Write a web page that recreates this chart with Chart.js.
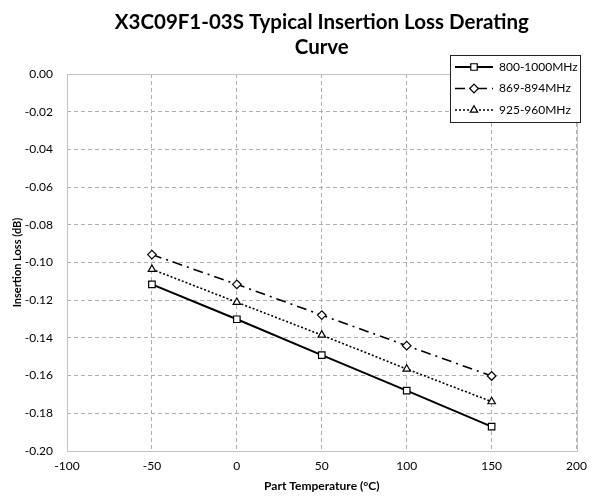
<!DOCTYPE html>
<html>
<head>
<meta charset="utf-8">
<script src="https://cdn.jsdelivr.net/npm/chart.js@4.4.1/dist/chart.umd.min.js"></script>
<style>
  html, body { margin: 0; padding: 0; background: #fff; }
  #wrap { width: 595px; height: 496px; }
</style>
</head>
<body>
<div id="wrap"><canvas id="grafica" width="595" height="496"></canvas></div>
<script>
// datos
const temperaturas = [-50, 0, 50, 100, 150];
const serieNombres = ['800-1000MHz', '869-894MHz', '925-960MHz'];
const perdida800 = [-0.1116, -0.1301, -0.1491, -0.1680, -0.1871];
const perdida869 = [-0.0958, -0.1116, -0.1279, -0.1441, -0.1602];
const perdida925 = [-0.1036, -0.1211, -0.1385, -0.1565, -0.1738];
const ticksX = [-100, -50, 0, 50, 100, 150, 200];
const ticksY = [0, -0.02, -0.04, -0.06, -0.08, -0.10, -0.12, -0.14, -0.16, -0.18, -0.20];
const tituloLineas = ['X3C09F1-03S Typical Insertion Loss Derating', 'Curve'];

const fuente = 'Lato, "Open Sans", sans-serif';

function puntos(valores) {
    return temperaturas.map((t, i) => ({ x: t, y: valores[i] }));
}

const estilos = [
    { dash: [], estilo: 'rect', ancho: 2 },
    { dash: [10, 5, 2, 5], estilo: 'rectRot', ancho: 1.6 },
    { dash: [2, 2], estilo: 'triangle', ancho: 1.6 }
];

const series = [perdida800, perdida869, perdida925];

const datasets = series.map((valores, i) => ({
    label: serieNombres[i],
    data: puntos(valores),
    borderColor: '#000',
    borderWidth: estilos[i].ancho,
    borderDash: estilos[i].dash,
    pointStyle: estilos[i].estilo,
    pointRadius: estilos[i].estilo === 'rect' ? 4.6 : 4.3,
    pointBackgroundColor: '#fff',
    pointBorderColor: '#000',
    pointBorderWidth: 1.2,
    tension: 0
}));

// ==============================
// PLUGIN: TITULO, MARCO Y LEYENDA
// ==============================
const decoracionPlugin = {
    id: 'decoracion',
    beforeDatasetsDraw(chart) {
        // marco solido del area de trazado
        const a = chart.chartArea;
        const ctx = chart.ctx;
        ctx.save();
        ctx.strokeStyle = '#c4c4c4';
        ctx.lineWidth = 1;
        ctx.setLineDash([]);
        ctx.strokeRect(Math.round(a.left) + 0.5, Math.round(a.top) + 0.5,
            Math.round(a.right - a.left), Math.round(a.bottom - a.top));
        ctx.restore();
    },
    afterDraw(chart) {
        const ctx = chart.ctx;
        const a = chart.chartArea;
        ctx.save();

        // titulo centrado sobre el area de trazado
        ctx.fillStyle = '#000';
        ctx.font = 'bold 20.5px ' + fuente;
        ctx.textAlign = 'center';
        ctx.textBaseline = 'middle';
        const cx = (a.left + a.right) / 2;
        tituloLineas.forEach((t, i) => ctx.fillText(t, cx, 22 + i * 25));

        // leyenda
        const x0 = 450, y0 = 55, w = 130, h = 67;
        ctx.fillStyle = '#fff';
        ctx.fillRect(x0, y0, w, h);
        ctx.strokeStyle = '#222';
        ctx.lineWidth = 1;
        ctx.setLineDash([]);
        ctx.strokeRect(x0 + 0.5, y0 + 0.5, w, h);

        datasets.forEach((ds, i) => {
            const y = y0 + 12 + i * 21.5;
            ctx.strokeStyle = '#000';
            ctx.lineWidth = ds.borderWidth;
            ctx.setLineDash(ds.borderDash);
            ctx.beginPath();
            ctx.moveTo(x0 + 5, y);
            ctx.lineTo(x0 + 43, y);
            ctx.stroke();
            ctx.setLineDash([]);
            ctx.fillStyle = '#fff';
            ctx.lineWidth = 1.2;
            Chart.helpers.drawPoint(ctx, {
                pointStyle: ds.pointStyle,
                radius: ds.pointRadius,
                borderWidth: 1.2
            }, x0 + 24, y);
            ctx.fillStyle = '#000';
            ctx.font = '12px ' + fuente;
            ctx.textBaseline = 'middle';
            ctx.textAlign = 'left';
            ctx.fillText(ds.label, x0 + 49, y);
        });
        ctx.restore();
    }
};

new Chart(document.getElementById('grafica'), {
    type: 'line',
    data: { datasets: datasets },
    options: {
        responsive: false,
        animation: false,
        layout: { padding: { left: 6, right: 15, top: 74, bottom: 0 } },
        plugins: {
            legend: { display: false },
            tooltip: { enabled: false },
            title: { display: false }
        },
        scales: {
            x: {
                type: 'linear',
                min: -100,
                max: 200,
                afterBuildTicks(axis) { axis.ticks = ticksX.map(v => ({ value: v })); },
                afterFit(axis) { axis.height = 45; },
                ticks: { color: '#000', font: { family: fuente, size: 12 }, padding: 8 },
                grid: { color: '#b0b0b0', drawTicks: false, tickLength: 0 },
                border: { display: false, dash: [4, 3] },
                title: {
                    display: true,
                    text: 'Part Temperature (°C)',
                    color: '#000',
                    font: { family: fuente, size: 12, weight: 'bold' },
                    padding: { top: 4, bottom: 3 }
                }
            },
            y: {
                min: -0.2,
                max: 0,
                afterBuildTicks(axis) { axis.ticks = ticksY.map(v => ({ value: v })); },
                afterFit(axis) { axis.width = 61; },
                ticks: {
                    color: '#000',
                    font: { family: fuente, size: 12 },
                    padding: 14,
                    callback: v => v.toFixed(2)
                },
                grid: { color: '#b0b0b0', drawTicks: false, tickLength: 0 },
                border: { display: false, dash: [4, 3] },
                title: {
                    display: true,
                    text: 'Insertion Loss (dB)',
                    color: '#000',
                    font: { family: fuente, size: 11, weight: 'bold' },
                    padding: { top: 5, bottom: 0 }
                }
            }
        }
    },
    plugins: [decoracionPlugin]
});
</script>
</body>
</html>
